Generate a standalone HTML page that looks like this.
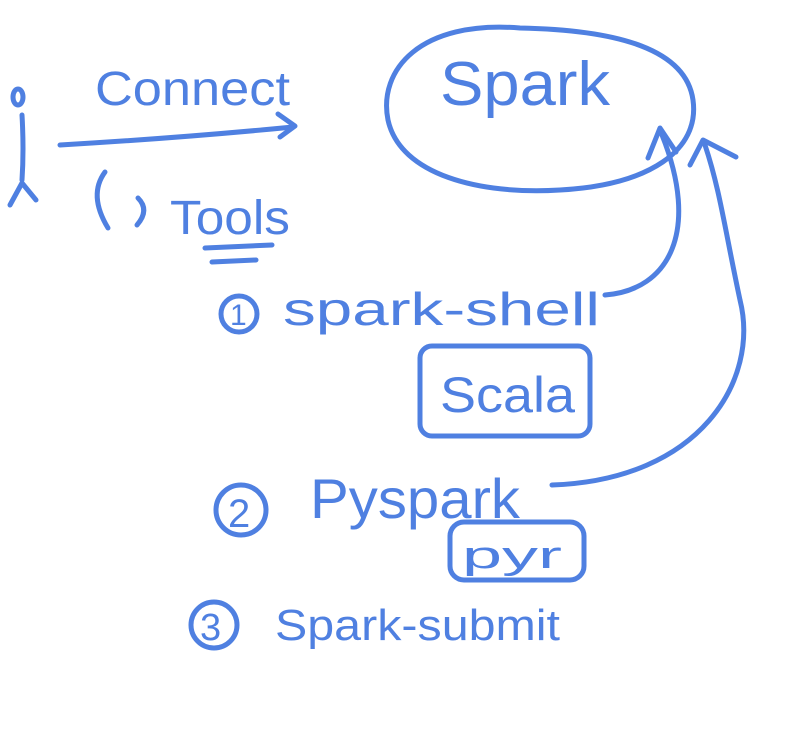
<!DOCTYPE html>
<html><head><meta charset="utf-8"><style>
html,body{margin:0;padding:0;background:#fff;}
svg{display:block}
text{font-family:"Liberation Sans",sans-serif;fill:#4f80e1;}
</style></head><body>
<svg width="799" height="738" viewBox="0 0 799 738" xmlns="http://www.w3.org/2000/svg">
<g fill="none" stroke="#4f80e1" stroke-width="5" stroke-linecap="round" stroke-linejoin="round">
<ellipse cx="18" cy="97" rx="5" ry="8"/>
<path d="M22 115 Q24 150 22 180"/>
<path d="M10 205 L22 183 L36 200"/>
<path d="M60 145 Q180 138 293 127"/>
<path d="M278 114 L295 126 L280 137"/>
<path d="M105 172 Q88 195 108 228"/>
<path d="M138 198 Q150 210 137 225"/>
<path d="M205 248 L272 245"/>
<path d="M212 262 L256 260"/>
<path d="M520 28 C420 20 378 70 388 120 C400 175 480 195 560 190 C650 185 700 150 693 100 C686 50 620 30 520 28 Z"/>
<circle cx="239" cy="314" r="18"/>
<circle cx="241" cy="510" r="25"/>
<circle cx="214" cy="625" r="23"/>
<path d="M605 295 C670 290 700 230 662 135"/>
<path d="M648 158 L660 128 L676 152"/>
<path d="M552 485 C700 480 760 380 740 300 C725 230 720 190 705 145"/>
<path d="M690 165 L703 140 L736 157"/>
<rect x="420" y="346" width="170" height="90" rx="12"/>
<rect x="450" y="522" width="134" height="58" rx="14"/>
</g>
<text x="95" y="105" font-size="48" textLength="195" lengthAdjust="spacingAndGlyphs">Connect</text>
<text x="170" y="234" font-size="48" textLength="120" lengthAdjust="spacingAndGlyphs">Tools</text>
<text x="440" y="105" font-size="62" textLength="170" lengthAdjust="spacingAndGlyphs">Spark</text>
<text x="230" y="325" font-size="30">1</text>
<text x="283" y="325" font-size="46" textLength="317" lengthAdjust="spacingAndGlyphs">spark-shell</text>
<text x="440" y="412" font-size="50" textLength="135" lengthAdjust="spacingAndGlyphs">Scala</text>
<text x="228" y="527" font-size="40">2</text>
<text x="310" y="518" font-size="56" textLength="210" lengthAdjust="spacingAndGlyphs">Pyspark</text>
<text x="462" y="568" font-size="38" textLength="100" lengthAdjust="spacingAndGlyphs">pyr</text>
<text x="200" y="640" font-size="38">3</text>
<text x="275" y="640" font-size="44" textLength="285" lengthAdjust="spacingAndGlyphs">Spark-submit</text>
</svg>
</body></html>
